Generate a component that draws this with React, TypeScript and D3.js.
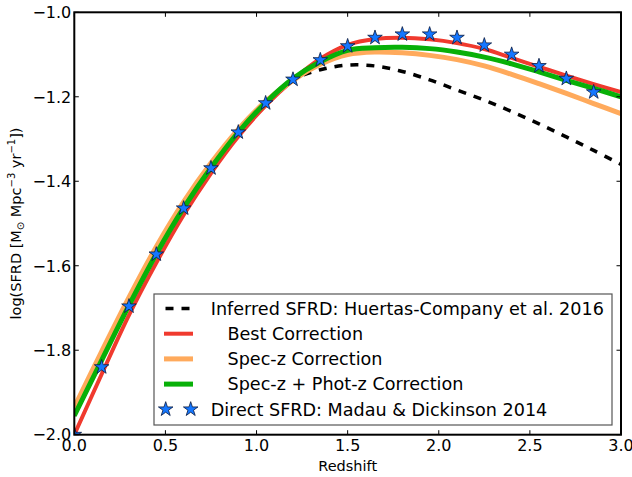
import React from 'react';
import * as d3 from 'd3';

// Redshift sampling shared by all curves
const redshift = [0, 0.15, 0.3, 0.45, 0.6, 0.75, 0.9, 1.05, 1.2, 1.35, 1.5, 1.65, 1.8, 1.95, 2.1, 2.25, 2.4, 2.55, 2.7, 2.85, 3.0];

// Direct SFRD points (Madau & Dickinson 2014), z = 0 ... 2.85
const directSFRD = [-2.0, -1.840, -1.696, -1.573, -1.464, -1.369, -1.284, -1.215, -1.159, -1.113, -1.080, -1.060, -1.052, -1.052, -1.060, -1.078, -1.100, -1.127, -1.157, -1.189];

// Model curves, log SFRD on the redshift grid
const inferredSFRD = [-1.955, -1.824, -1.694, -1.572, -1.463, -1.368, -1.284, -1.214, -1.160, -1.136, -1.125, -1.127, -1.140, -1.160, -1.184, -1.208, -1.235, -1.264, -1.295, -1.327, -1.360];
const bestCorrection = [-2.0, -1.857, -1.717, -1.593, -1.480, -1.381, -1.294, -1.221, -1.160, -1.110, -1.077, -1.063, -1.060, -1.064, -1.073, -1.087, -1.108, -1.129, -1.150, -1.170, -1.189];
const specZCorrection = [-1.935, -1.803, -1.675, -1.555, -1.449, -1.357, -1.277, -1.211, -1.161, -1.123, -1.100, -1.094, -1.096, -1.102, -1.112, -1.127, -1.147, -1.169, -1.192, -1.216, -1.240];
const specPhotCorrection = [-1.955, -1.824, -1.694, -1.572, -1.463, -1.368, -1.284, -1.214, -1.157, -1.117, -1.090, -1.084, -1.083, -1.086, -1.094, -1.106, -1.122, -1.141, -1.161, -1.180, -1.200];

const xTicks = [0, 0.5, 1.0, 1.5, 2.0, 2.5, 3.0];
const yTicks = [-2.0, -1.8, -1.6, -1.4, -1.2, -1.0];

const legendLabels = [
  'Inferred SFRD: Huertas-Company et al. 2016',
  '   Best Correction',
  '   Spec-z Correction',
  '   Spec-z + Phot-z Correction',
  'Direct SFRD: Madau & Dickinson 2014',
];

const W = 632;
const H = 477;
const box = { left: 74.3, right: 621, top: 12.3, bottom: 434.7 };
const FONT = 'DejaVu Sans, sans-serif';

const colors = {
  inferred: '#000000',
  best: '#f03a2e',
  specZ: '#ffaa5c',
  specPhot: '#08b008',
  star: '#1577ff',
};

export default function App() {
  const x = d3.scaleLinear().domain([0, 3]).range([box.left, box.right]);
  const y = d3.scaleLinear().domain([-2, -1]).range([box.bottom, box.top]);

  const line = d3
    .line<[number, number]>()
    .x((d) => x(d[0]))
    .y((d) => y(d[1]))
    .curve(d3.curveCatmullRom.alpha(0.5));

  const pairs = (vals: number[]) => vals.map((v, i) => [redshift[i], v] as [number, number]);

  const starPath = d3.symbol().type(d3.symbolStar).size(66)() as string;
  const fmt = d3.format('.1f');
  const tickLen = 4.5;

  const series = [
    { vals: inferredSFRD, color: colors.inferred, width: 3.5, dash: '8,8' },
    { vals: bestCorrection, color: colors.best, width: 4, dash: undefined },
    { vals: specZCorrection, color: colors.specZ, width: 5, dash: undefined },
    { vals: specPhotCorrection, color: colors.specPhot, width: 5, dash: undefined },
  ];

  const legendX = 154;
  const legendY = 294;
  const legendW = 458;
  const legendH = 131;
  const rowY0 = 308.5;
  const rowStep = 25.2;
  const handleX1 = 164;
  const handleX2 = 193;
  const textX = 210.7;

  return (
    <svg
      width={W}
      height={H}
      viewBox={`0 0 ${W} ${H}`}
      style={{ position: 'absolute', left: 0, top: 0, background: '#fff' }}
      fontFamily={FONT}
    >
      <defs>
        <clipPath id="plot-area">
          <rect x={box.left} y={box.top} width={box.right - box.left} height={box.bottom - box.top} />
        </clipPath>
      </defs>
      <rect x={0} y={0} width={W} height={H} fill="#fff" />

      <g clipPath="url(#plot-area)">
        {series.map((s, i) => (
          <path
            key={i}
            d={line(pairs(s.vals)) as string}
            fill="none"
            stroke={s.color}
            strokeWidth={s.width}
            strokeDasharray={s.dash}
          />
        ))}
        {directSFRD.map((v, i) => (
          <path
            key={i}
            d={starPath}
            transform={`translate(${x(redshift[i])},${y(v)})`}
            fill={colors.star}
            stroke="#0a1a40"
            strokeWidth={0.8}
          />
        ))}
      </g>

      {/* axes frame */}
      <rect
        x={box.left}
        y={box.top}
        width={box.right - box.left}
        height={box.bottom - box.top}
        fill="none"
        stroke="#000"
        strokeWidth={2}
      />

      {/* x ticks (inward, bottom and top) */}
      {xTicks.map((t) => (
        <g key={`x${t}`}>
          <line x1={x(t)} x2={x(t)} y1={box.bottom} y2={box.bottom - tickLen} stroke="#000" strokeWidth={1} />
          <line x1={x(t)} x2={x(t)} y1={box.top} y2={box.top + tickLen} stroke="#000" strokeWidth={1} />
          <text x={x(t)} y={451} textAnchor="middle" fontSize={16} fill="#000">
            {fmt(t)}
          </text>
        </g>
      ))}

      {/* y ticks (inward, left and right) */}
      {yTicks.map((t) => (
        <g key={`y${t}`}>
          <line x1={box.left} x2={box.left + tickLen} y1={y(t)} y2={y(t)} stroke="#000" strokeWidth={1} />
          <line x1={box.right} x2={box.right - tickLen} y1={y(t)} y2={y(t)} stroke="#000" strokeWidth={1} />
          <text x={box.left - 3} y={y(t)} dy="0.36em" textAnchor="end" fontSize={16} fill="#000">
            {fmt(t)}
          </text>
        </g>
      ))}

      {/* axis titles */}
      <text x={(box.left + box.right) / 2} y={471} textAnchor="middle" fontSize={14.5} fill="#000">
        Redshift
      </text>
      <text
        transform={`translate(21,${(box.top + box.bottom) / 2}) rotate(-90)`}
        textAnchor="middle"
        fontSize={14.5}
        fill="#000"
      >
        <tspan>log(SFRD [M</tspan>
        <tspan fontSize={10} dy={3}>⊙</tspan>
        <tspan dy={-3}> Mpc</tspan>
        <tspan fontSize={10} dy={-6}>−3</tspan>
        <tspan dy={6}> yr</tspan>
        <tspan fontSize={10} dy={-6}>−1</tspan>
        <tspan dy={6}>])</tspan>
      </text>

      {/* legend */}
      <g>
        <rect x={legendX} y={legendY} width={legendW} height={legendH} fill="#fff" stroke="#555" strokeWidth={1.2} />
        {legendLabels.map((label, i) => {
          const ry = rowY0 + i * rowStep;
          let handle: React.ReactNode = null;
          if (i < 4) {
            const s = series[i];
            handle =
              i === 0 ? (
                <line x1={165.5} x2={190} y1={ry} y2={ry} stroke={s.color} strokeWidth={s.width} strokeDasharray="8,8" />
              ) : (
                <line x1={handleX1} x2={handleX2} y1={ry} y2={ry} stroke={s.color} strokeWidth={s.width} />
              );
          } else {
            handle = (
              <g>
                {[165.7, 190.7].map((sx) => (
                  <path
                    key={sx}
                    d={starPath}
                    transform={`translate(${sx},${ry})`}
                    fill={colors.star}
                    stroke="#0a1a40"
                    strokeWidth={0.8}
                  />
                ))}
              </g>
            );
          }
          return (
            <g key={i}>
              {handle}
              <text x={textX} y={ry} dy="0.36em" fontSize={17.6} fill="#000" xmlSpace="preserve" style={{ whiteSpace: 'pre' }}>
                {label}
              </text>
            </g>
          );
        })}
      </g>
    </svg>
  );
}
